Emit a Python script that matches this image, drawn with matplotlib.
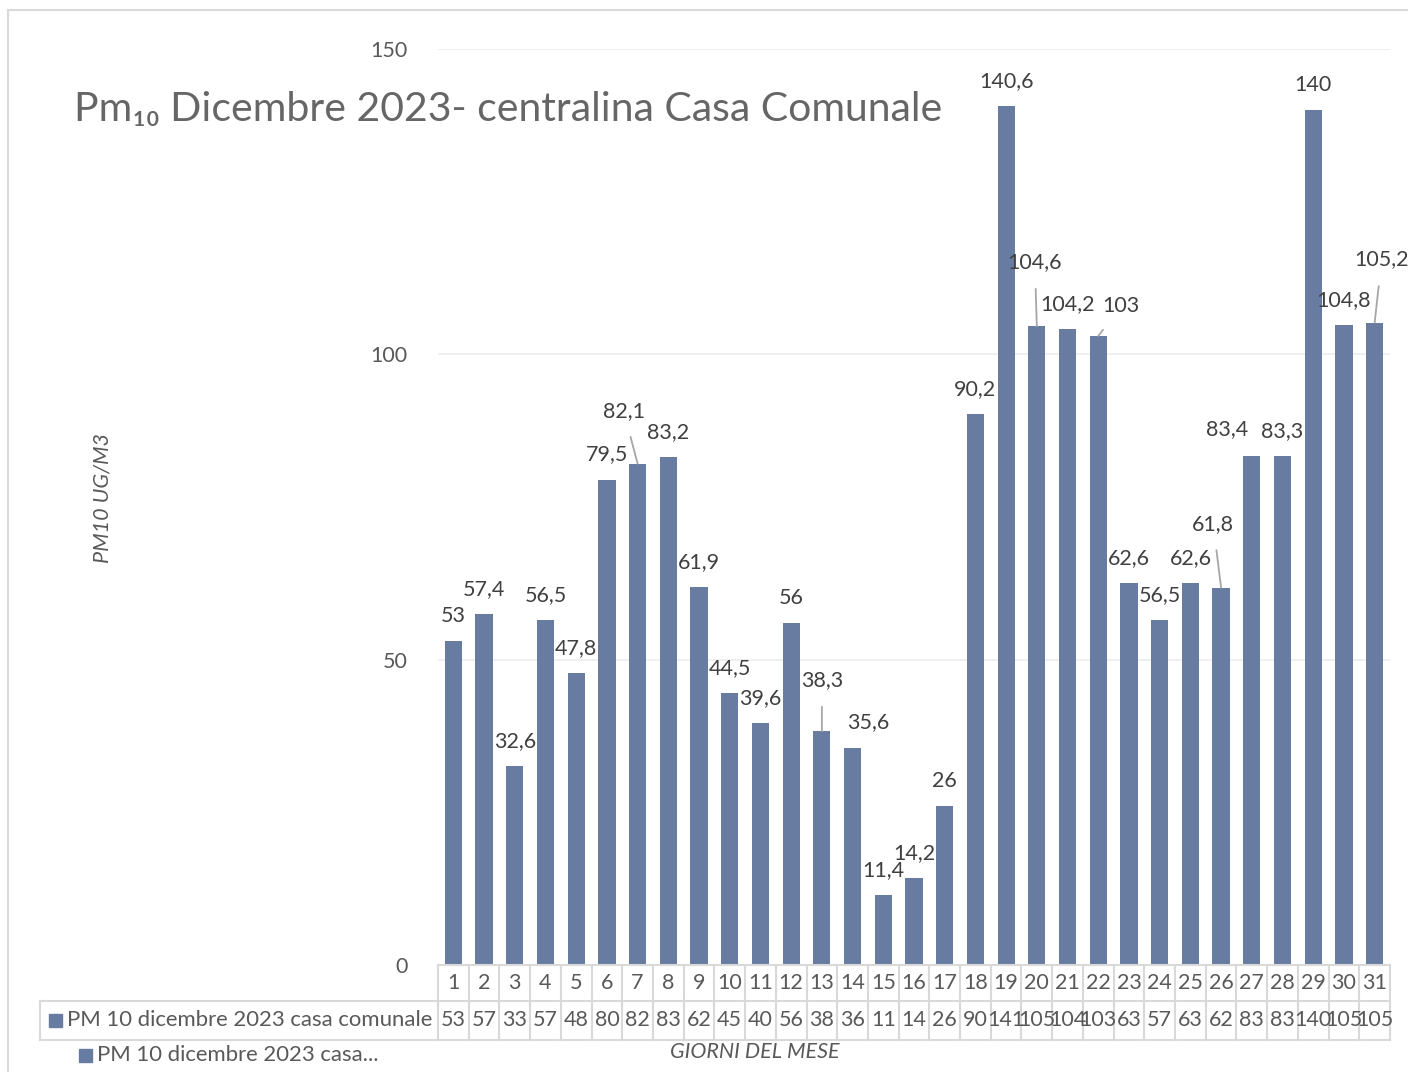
import numpy as np
import matplotlib.pyplot as plt
from matplotlib.patches import Rectangle
import matplotlib.transforms as mtransforms

plt.rcParams['font.family'] = ['Lato', 'DejaVu Sans']

# dati: PM10 dicembre 2023, centralina casa comunale
giorni = list(range(1, 32))
pm10 = [53, 57.4, 32.6, 56.5, 47.8, 79.5, 82.1, 83.2, 61.9, 44.5, 39.6, 56, 38.3,
        35.6, 11.4, 14.2, 26, 90.2, 140.6, 104.6, 104.2, 103, 62.6, 56.5, 62.6,
        61.8, 83.4, 83.3, 140, 104.8, 105.2]
nome_serie = "PM 10 dicembre 2023 casa comunale"
y_ticks = [0, 50, 100, 150]

# spostamenti delle etichette (pixel) rispetto alla cima della barra; leader = linea guida
spost = {7: (-14, 53, True), 13: (0, 51, True), 14: (16, 26, False),
         20: (-2, 64, True), 22: (23, 30, True), 26: (-8, 64, True),
         27: (-25, 27, False), 31: (7, 63, True)}

colore = '#677ca0'
grigio = '#595959'
bordo = '#d9d9d9'
fs = 15.5


def etichetta(v):
    if float(v).is_integer():
        return str(int(v))
    return f"{v:.1f}".replace('.', ',')


fig = plt.figure(figsize=(14.08, 10.72), dpi=100)
ax = fig.add_axes([438 / 1408, 107 / 1072, 952 / 1408, 916 / 1072])

x = np.array(giorni)
ax.bar(x, pm10, width=0.56, color=colore, zorder=2)
ax.set_xlim(0.5, 31.5)
ax.set_ylim(0, 150)
ax.set_yticks(y_ticks)
ax.set_yticklabels([str(t) for t in y_ticks], color=grigio, fontsize=fs)
ax.tick_params(axis='y', length=0, pad=22)
ax.set_xticks([])
for s in ax.spines.values():
    s.set_visible(False)
ax.grid(axis='y', color='#ececec', linewidth=1.2, zorder=0)

# etichette dati
for g, v in zip(giorni, pm10):
    dx, dy, leader = spost.get(g, (0, 25, False))
    kw = {}
    if leader:
        kw['arrowprops'] = dict(arrowstyle='-', color='#a6a6a6', lw=1.3,
                                shrinkA=10, shrinkB=0)
    ax.annotate(etichetta(v), xy=(g, v), xytext=(dx, dy), textcoords='offset pixels',
                ha='center', va='center', fontsize=fs, color='#404040', **kw)

# tabella dati sotto il grafico
trans = mtransforms.blended_transform_factory(ax.transData, ax.transAxes)
r1 = -36 / 916
r2 = -75 / 916
x_sx = (40 - 438) / 952
for g in giorni:
    ax.text(g, r1 / 2, str(g), transform=trans, ha='center', va='center',
            fontsize=fs, color=grigio, clip_on=False)
    ax.text(g, (r1 + r2) / 2, str(int(np.floor(pm10[g - 1] + 0.5))), transform=trans,
            ha='center', va='center', fontsize=fs, color=grigio, clip_on=False)
for xb in np.arange(0.5, 32, 1):
    ax.plot([xb, xb], [0, r2], transform=trans, color=bordo, lw=1.5, clip_on=False)
ax.plot([0.5, 31.5], [0, 0], transform=trans, color=bordo, lw=1.5, clip_on=False)
ax.plot([x_sx, 1], [r1, r1], transform=ax.transAxes, color=bordo, lw=1.5, clip_on=False)
ax.plot([x_sx, 1], [r2, r2], transform=ax.transAxes, color=bordo, lw=1.5, clip_on=False)
ax.plot([x_sx, x_sx], [r1, r2], transform=ax.transAxes, color=bordo, lw=1.5, clip_on=False)

# voce della serie nella tabella
fig.patches.append(Rectangle((49 / 1408, 1 - 1027 / 1072), 13 / 1408, 13 / 1072,
                             transform=fig.transFigure, color=colore))
fig.text(67 / 1408, 1 - 1020 / 1072, nome_serie, ha='left', va='center',
         fontsize=15.9, color=grigio)

# legenda
fig.patches.append(Rectangle((79 / 1408, 1 - 1062 / 1072), 13 / 1408, 13 / 1072,
                             transform=fig.transFigure, color=colore))
fig.text(97 / 1408, 1 - 1055 / 1072, "PM 10 dicembre 2023 casa...", ha='left',
         va='center', fontsize=15.9, color=grigio)

# titoli
fig.text(755 / 1408, 1 - 1052 / 1072, "GIORNI DEL MESE", ha='center', va='center',
         fontsize=fs, color=grigio, style='italic')
fig.text(103 / 1408, 1 - 498 / 1072, "PM10 UG/M3", ha='center', va='center',
         rotation=90, fontsize=fs, color=grigio, style='italic')
fig.text(74 / 1408, 1 - 110 / 1072, "Pm\u2081\u2080 Dicembre 2023- centralina Casa Comunale",
         ha='left', va='center', fontsize=29.5, color='#666666')

# bordo esterno
fig.patches.append(Rectangle((8 / 1408, -0.01), 1.1, 1 - 10 / 1072 + 0.01,
                             transform=fig.transFigure, fill=False,
                             edgecolor=bordo, lw=1.5))

fig.savefig('out.png', dpi=100)
